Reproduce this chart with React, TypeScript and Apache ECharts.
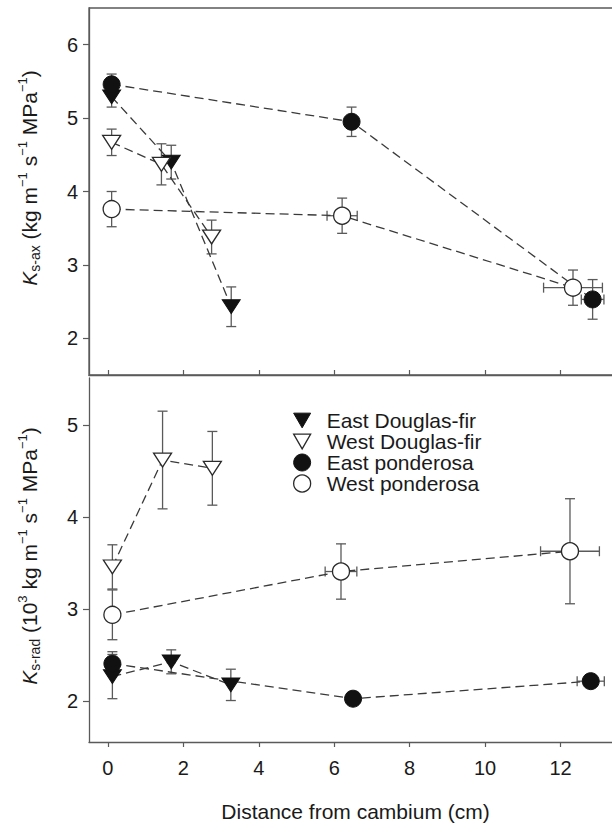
import React, { useEffect, useRef } from 'react';
import * as echarts from 'echarts';

// ---------- data ----------
const SPECIES = ['East Douglas-fir', 'West Douglas-fir', 'East ponderosa', 'West ponderosa'];
const X_TICKS = [0, 2, 4, 6, 8, 10, 12];
const AX_TICKS = [2, 3, 4, 5, 6];
const RAD_TICKS = [2, 3, 4, 5];
const X_TITLE = 'Distance from cambium (cm)';

// Top panel: K_s-ax (kg m-1 s-1 MPa-1)
const EDF_AX_X = [0.1, 1.68, 3.27];
const EDF_AX_Y = [5.29, 4.4, 2.43];
const EDF_AX_YERR = [0.14, 0.23, 0.27];
const EDF_AX_XERR = [0, 0, 0];

const WDF_AX_X = [0.1, 1.42, 2.75];
const WDF_AX_Y = [4.67, 4.37, 3.38];
const WDF_AX_YERR = [0.18, 0.28, 0.23];
const WDF_AX_XERR = [0, 0, 0];

const EP_AX_X = [0.1, 6.46, 12.85];
const EP_AX_Y = [5.46, 4.95, 2.53];
const EP_AX_YERR = [0.14, 0.2, 0.27];
const EP_AX_XERR = [0, 0, 0.3];

const WP_AX_X = [0.1, 6.21, 12.33];
const WP_AX_Y = [3.76, 3.67, 2.69];
const WP_AX_YERR = [0.24, 0.24, 0.24];
const WP_AX_XERR = [0, 0.4, 0.78];

// Bottom panel: K_s-rad (10^3 kg m-1 s-1 MPa-1)
const EDF_RAD_X = [0.12, 1.68, 3.26];
const EDF_RAD_Y = [2.27, 2.43, 2.18];
const EDF_RAD_YERR = [0.24, 0.13, 0.17];
const EDF_RAD_XERR = [0, 0, 0];

const WDF_RAD_X = [0.12, 1.45, 2.77];
const WDF_RAD_Y = [3.46, 4.62, 4.53];
const WDF_RAD_YERR = [0.24, 0.53, 0.4];
const WDF_RAD_XERR = [0, 0, 0];

const EP_RAD_X = [0.12, 6.5, 12.8];
const EP_RAD_Y = [2.41, 2.03, 2.22];
const EP_RAD_YERR = [0.13, 0, 0];
const EP_RAD_XERR = [0, 0, 0.36];

const WP_RAD_X = [0.12, 6.18, 12.25];
const WP_RAD_Y = [2.94, 3.41, 3.63];
const WP_RAD_YERR = [0.27, 0.3, 0.57];
const WP_RAD_XERR = [0, 0.42, 0.78];

// ---------- styles ----------
const FONT = 'Liberation Sans, Arial, Helvetica, sans-serif';
const AXIS_COLOR = '#5a5a5a';
const TEXT_COLOR = '#1a1a1a';
const DOWN_TRI = 'path://M0,0L20,0L10,17.3Z';

type Style = { symbol: string; filled: boolean };
const STYLES: Style[] = [
  { symbol: DOWN_TRI, filled: true },
  { symbol: DOWN_TRI, filled: false },
  { symbol: 'circle', filled: true },
  { symbol: 'circle', filled: false },
];

function markerStyle(filled: boolean) {
  return filled
    ? { color: '#111', borderColor: '#111', borderWidth: 1 }
    : { color: '#fff', borderColor: '#2a2a2a', borderWidth: 1.3 };
}

function errorBarRender(params: any, api: any) {
  const x = api.value(0);
  const y = api.value(1);
  const ey = api.value(2);
  const ex = api.value(3);
  const children: any[] = [];
  const st = { stroke: AXIS_COLOR, lineWidth: 1.3 };
  const cap = 5;
  if (ey > 0) {
    const t = api.coord([x, y + ey]);
    const b = api.coord([x, y - ey]);
    children.push({ type: 'line', shape: { x1: t[0], y1: t[1], x2: b[0], y2: b[1] }, style: st });
    children.push({ type: 'line', shape: { x1: t[0] - cap, y1: t[1], x2: t[0] + cap, y2: t[1] }, style: st });
    children.push({ type: 'line', shape: { x1: b[0] - cap, y1: b[1], x2: b[0] + cap, y2: b[1] }, style: st });
  }
  if (ex > 0) {
    const l = api.coord([x - ex, y]);
    const r = api.coord([x + ex, y]);
    children.push({ type: 'line', shape: { x1: l[0], y1: l[1], x2: r[0], y2: r[1] }, style: st });
    children.push({ type: 'line', shape: { x1: l[0], y1: l[1] - cap, x2: l[0], y2: l[1] + cap }, style: st });
    children.push({ type: 'line', shape: { x1: r[0], y1: r[1] - cap, x2: r[0], y2: r[1] + cap }, style: st });
  }
  return { type: 'group', children };
}

const PANELS = [
  {
    idx: 0,
    sets: [
      [EDF_AX_X, EDF_AX_Y, EDF_AX_YERR, EDF_AX_XERR],
      [WDF_AX_X, WDF_AX_Y, WDF_AX_YERR, WDF_AX_XERR],
      [EP_AX_X, EP_AX_Y, EP_AX_YERR, EP_AX_XERR],
      [WP_AX_X, WP_AX_Y, WP_AX_YERR, WP_AX_XERR],
    ],
  },
  {
    idx: 1,
    sets: [
      [EDF_RAD_X, EDF_RAD_Y, EDF_RAD_YERR, EDF_RAD_XERR],
      [WDF_RAD_X, WDF_RAD_Y, WDF_RAD_YERR, WDF_RAD_XERR],
      [EP_RAD_X, EP_RAD_Y, EP_RAD_YERR, EP_RAD_XERR],
      [WP_RAD_X, WP_RAD_Y, WP_RAD_YERR, WP_RAD_XERR],
    ],
  },
];

function buildOption() {
  const errSeries: any[] = [];
  const lineSeries: any[] = [];
  PANELS.forEach((p) => {
    p.sets.forEach((set, si) => {
      const [xs, ys, eys, exs] = set;
      errSeries.push({
        type: 'custom',
        xAxisIndex: p.idx,
        yAxisIndex: p.idx,
        data: xs.map((x, i) => [x, ys[i], eys[i], exs[i]]),
        encode: { x: 0, y: 1 },
        renderItem: errorBarRender,
        z: 2,
        silent: true,
        clip: false,
      });
      const st = STYLES[si];
      lineSeries.push({
        type: 'line',
        name: SPECIES[si],
        xAxisIndex: p.idx,
        yAxisIndex: p.idx,
        data: xs.map((x, i) => [x, ys[i]]),
        symbol: st.symbol,
        symbolSize: st.symbol === 'circle' ? 17 : [18, 16],
        symbolKeepAspect: true,
        showAllSymbol: true,
        itemStyle: markerStyle(st.filled),
        lineStyle: { color: '#3a3a3a', width: 1.3, type: [9, 5] },
        z: 3,
        clip: false,
        emphasis: { disabled: true },
      });
    });
  });

  const yAxisCommon = {
    type: 'value',
    axisLine: { show: true, onZero: false, lineStyle: { color: AXIS_COLOR, width: 1.3 } },
    axisTick: { show: true, length: 6, inside: false, lineStyle: { color: AXIS_COLOR, width: 1.2 } },
    axisLabel: { color: TEXT_COLOR, fontSize: 20, fontFamily: FONT, margin: 11 },
    splitLine: { show: false },
  };

  return {
    animation: false,
    backgroundColor: '#fff',
    grid: [
      {
        left: 89, top: 8, right: 4, height: 367,
        show: true, borderColor: AXIS_COLOR, borderWidth: 1.3, backgroundColor: 'transparent',
      },
      { left: 89, top: 378, right: 4, height: 364 },
    ],
    xAxis: [
      {
        gridIndex: 0, type: 'value', min: -0.5, max: 14,
        axisLine: { show: true, onZero: false, lineStyle: { color: AXIS_COLOR, width: 1.3 } },
        axisTick: { show: true, inside: true, length: 5, customValues: X_TICKS, lineStyle: { color: AXIS_COLOR, width: 1.2 } },
        axisLabel: { show: false, customValues: X_TICKS },
        splitLine: { show: false },
      },
      {
        gridIndex: 1, type: 'value', min: -0.5, max: 14,
        axisLine: { show: true, onZero: false, lineStyle: { color: AXIS_COLOR, width: 1.3 } },
        axisTick: { show: true, inside: false, length: 5, customValues: X_TICKS, lineStyle: { color: AXIS_COLOR, width: 1.2 } },
        axisLabel: { color: TEXT_COLOR, fontSize: 20, fontFamily: FONT, margin: 16, customValues: X_TICKS },
        splitLine: { show: false },
        name: X_TITLE,
        nameLocation: 'middle',
        nameGap: 59,
        nameTextStyle: { color: TEXT_COLOR, fontSize: 21, fontFamily: FONT, padding: [0, 14, 0, 0] },
      },
    ],
    yAxis: [
      {
        ...yAxisCommon, gridIndex: 0, min: 1.5, max: 6.5,
        axisTick: { ...yAxisCommon.axisTick, customValues: AX_TICKS },
        axisLabel: { ...yAxisCommon.axisLabel, customValues: AX_TICKS },
      },
      {
        ...yAxisCommon, gridIndex: 1, min: 1.56, max: 5.51,
        axisTick: { ...yAxisCommon.axisTick, customValues: RAD_TICKS },
        axisLabel: { ...yAxisCommon.axisLabel, customValues: RAD_TICKS },
      },
    ],
    legend: {
      left: 288,
      top: 405,
      orient: 'vertical',
      itemWidth: 17,
      itemHeight: 17,
      itemGap: 0,
      selectedMode: false,
      textStyle: { color: TEXT_COLOR, fontSize: 21, fontFamily: FONT, lineHeight: 21, padding: [0, 0, 0, 11] },
      data: SPECIES.map((n, i) => ({
        name: n,
        icon: STYLES[i].symbol === 'circle' ? 'circle' : DOWN_TRI,
        itemStyle: STYLES[i].filled
          ? { color: '#111', borderColor: '#111', borderWidth: 1 }
          : { color: '#fff', borderColor: '#2a2a2a', borderWidth: 1.3 },
      })),
    },
    graphic: [
      {
        type: 'text',
        x: 29,
        y: 178,
        rotation: Math.PI / 2,
        style: {
          text: '{k|K}{s|s-ax} (kg m{p|−1} s{p|−1} MPa{p|−1})',
          fill: TEXT_COLOR,
          font: `21px ${FONT}`,
          align: 'center',
          verticalAlign: 'middle',
          rich: {
            k: { fontSize: 21, fontStyle: 'italic', fontFamily: FONT, lineHeight: 26, verticalAlign: 'middle' },
            s: { fontSize: 14, fontFamily: FONT, lineHeight: 14, verticalAlign: 'bottom' },
            p: { fontSize: 13, fontFamily: FONT, lineHeight: 13, verticalAlign: 'top' },
          },
        },
      },
      {
        type: 'text',
        x: 29,
        y: 556,
        rotation: Math.PI / 2,
        style: {
          text: '{k|K}{s|s-rad} (10{p|3} kg m{p|−1} s{p|−1} MPa{p|−1})',
          fill: TEXT_COLOR,
          font: `21px ${FONT}`,
          align: 'center',
          verticalAlign: 'middle',
          rich: {
            k: { fontSize: 21, fontStyle: 'italic', fontFamily: FONT, lineHeight: 26, verticalAlign: 'middle' },
            s: { fontSize: 14, fontFamily: FONT, lineHeight: 14, verticalAlign: 'bottom' },
            p: { fontSize: 13, fontFamily: FONT, lineHeight: 13, verticalAlign: 'top' },
          },
        },
      },
    ],
    series: [...errSeries, ...lineSeries],
  };
}

export default function App() {
  const ref = useRef<HTMLDivElement>(null);
  useEffect(() => {
    if (!ref.current) return;
    const chart = echarts.init(ref.current, undefined, { renderer: 'svg' });
    chart.setOption(buildOption() as any);
    return () => chart.dispose();
  }, []);
  return (
    <div style={{ position: 'fixed', left: 0, top: 0, width: 612, height: 824, overflow: 'hidden', background: '#fff' }}>
      <div ref={ref} style={{ width: 640, height: 824 }} />
    </div>
  );
}
